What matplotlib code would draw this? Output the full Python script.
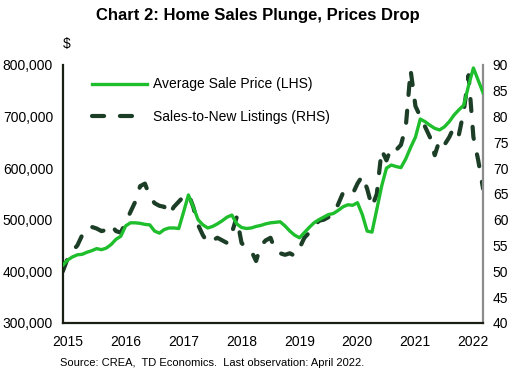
import matplotlib.pyplot as plt
import numpy as np

plt.rcParams['font.family'] = ['Liberation Sans', 'DejaVu Sans']

# monthly data, Jan 2015 .. Apr 2022
start_year = 2015
avg_price = [412, 422, 428, 432, 433, 437, 440, 444, 442, 445, 452, 462,
             468, 488, 494, 494, 493, 491, 490, 478, 474, 481, 484, 484,
             483, 515, 548, 525, 500, 490, 484, 487, 492, 498, 505, 509,
             492, 485, 483, 484, 487, 489, 492, 494, 495, 496, 488, 478,
             470, 465, 475, 485, 494, 500, 505, 510, 512, 518, 525, 529,
             528, 533, 510, 478, 476, 520, 565, 600, 606, 603, 601, 618,
             640, 660, 695, 690, 683, 677, 674, 680, 690, 703, 713, 722,
             760, 794, 770, 746]
snlr = [50, 52.5, 54, 55, 57, 58.5, 58.6, 58.3, 57.8, 58, 59, 57.8,
        57.5, 59.5, 61.5, 63.5, 66.5, 67, 64.5, 63.2, 62.7, 62.5, 61, 62.5,
        63.5, 64.5, 65, 62.5, 59, 57, 55.5, 56, 56.5, 56, 55.5, 57.5,
        60.5, 55.5, 54.5, 54, 52, 55, 56, 56.5, 54, 53.5, 53.2, 53.5,
        53, 54.5, 56.5, 57.5, 58.5, 59.8, 60, 60.5, 61, 63, 65.2, 65.5,
        65, 67, 68.5, 66, 62.5, 65, 73.5, 71.5, 74, 73.5, 74.5, 78,
        89, 82, 80, 78, 76, 72.5, 75.5, 74.5, 76, 78, 76.5, 81,
        88, 76, 71.5, 66]
years = list(range(2015, 2023))

t = start_year + np.arange(len(avg_price)) / 12
price = np.array(avg_price) * 1000

fig = plt.figure(figsize=(5.15, 3.84), dpi=100)
ax = fig.add_axes([0.122, 0.159, 0.816, 0.672])
ax2 = ax.twinx()

l1, = ax.plot(t, price, color='#1EBE2C', lw=2.4, label='Average Sale Price (LHS)', zorder=3)
l2, = ax2.plot(t, snlr, color='#1C3E27', lw=3.0, dashes=(2.9, 3.8),
               dash_capstyle='round', label='Sales-to-New Listings (RHS)')
ax.set_zorder(ax2.get_zorder() + 1)
ax.patch.set_visible(False)

ax.set_xlim(t[0], t[-1])
ax.set_ylim(300000, 800000)
ax2.set_ylim(40, 90)
ax.set_yticks(np.arange(300000, 800001, 100000))
ax.set_yticklabels([f'{v:,}' for v in range(300000, 800001, 100000)])
ax2.set_yticks(np.arange(40, 91, 5))
ax.set_xticks([y + 0.08 for y in years])
ax.set_xticklabels([str(y) for y in years])

for a in (ax, ax2):
    a.tick_params(length=0, labelsize=10, colors='#000000')
    a.spines['top'].set_visible(False)
ax.tick_params(axis='y', pad=7)
ax.tick_params(axis='x', pad=9)
ax2.tick_params(axis='y', pad=7)
ax.spines['left'].set_color('#1a1f14')
ax.spines['left'].set_linewidth(1.6)
ax.spines['bottom'].set_color('#1a1f14')
ax.spines['bottom'].set_linewidth(1.6)
ax.spines['right'].set_visible(False)
ax2.spines['left'].set_visible(False)
ax2.spines['bottom'].set_visible(False)
ax2.spines['right'].set_color('#8c8c8c')
ax2.spines['right'].set_linewidth(1.6)

ax.legend([l1, l2], [l1.get_label(), l2.get_label()], loc='upper left',
          bbox_to_anchor=(0.04, 1.0), frameon=False, fontsize=10,
          handlelength=3.95, labelspacing=1.35, handletextpad=0.45)

fig.text(0.122, 0.875, '$', fontsize=10, ha='left')
fig.text(0.5, 0.96, 'Chart 2: Home Sales Plunge, Prices Drop', fontsize=12,
         fontweight='bold', ha='center', va='center')
fig.text(0.116, 0.055, 'Source: CREA,  TD Economics.  Last observation: April 2022.',
         fontsize=8, ha='left', va='center')

fig.savefig('out.png', dpi=100)
